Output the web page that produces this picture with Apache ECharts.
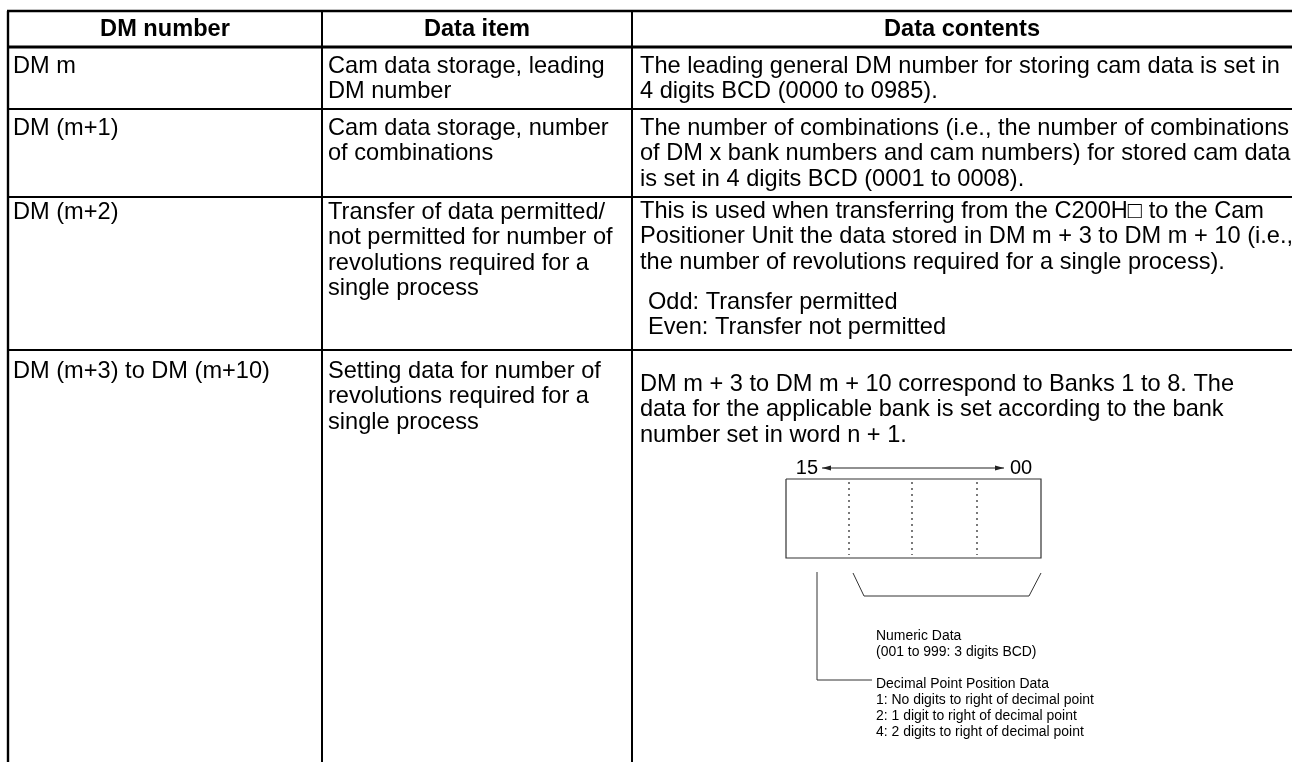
<!DOCTYPE html>
<html><head><meta charset="utf-8">
<script src="https://cdn.jsdelivr.net/npm/echarts@6/dist/echarts.min.js"></script>
<style>html,body{margin:0;padding:0;background:#fff}#c{width:1292px;height:762px}</style>
</head><body><div id="c"></div>
<script>
// ---------- data (texts of the table) ----------
const headers = ['DM number', 'Data item', 'Data contents'];
const dmNumbers = ['DM m', 'DM (m+1)', 'DM (m+2)', 'DM (m+3) to DM (m+10)'];
const dataItems = [
  ['Cam data storage, leading', 'DM number'],
  ['Cam data storage, number', 'of combinations'],
  ['Transfer of data permitted/', 'not permitted for number of', 'revolutions required for a', 'single process'],
  ['Setting data for number of', 'revolutions required for a', 'single process']
];
const dataContents = [
  ['The leading general DM number for storing cam data is set in', '4 digits BCD (0000 to 0985).'],
  ['The number of combinations (i.e., the number of combinations', 'of DM x bank numbers and cam numbers) for stored cam data', 'is set in 4 digits BCD (0001 to 0008).'],
  ['This is used when transferring from the C200H\u25A1 to the Cam', 'Positioner Unit the data stored in DM m + 3 to DM m + 10 (i.e.,', 'the number of revolutions required for a single process).'],
  ['DM m + 3 to DM m + 10 correspond to Banks 1 to 8. The', 'data for the applicable bank is set according to the bank', 'number set in word n + 1.']
];
const transferNotes = ['Odd: Transfer permitted', 'Even: Transfer not permitted'];
const bitLabels = ['15', '00'];
const numericNotes = ['Numeric Data', '(001 to 999: 3 digits BCD)'];
const decimalNotes = ['Decimal Point Position Data', '1: No digits to right of decimal point', '2: 1 digit to right of decimal point', '4: 2 digits to right of decimal point'];

// ---------- layout (positions in axis units) ----------
const L = {
  colEdges: [8, 322, 632, 1300],
  rowEdges: [11, 47, 109, 197, 350, 780],
  textX: [13, 328, 640],
  lineH: 25.5,
  firstLine: [29, 66, 128, 212, 371],
  contentFirst: [29, 66, 128, 211, 384],
  notesFirst: 302, notesIndent: 8,
  bit: {y: 468, x15: 818, x00: 1010, a0: 822, a1: 1004},
  box: {x0: 786, y0: 479, x1: 1041, y1: 558, dots: [849, 912, 977]},
  bracket: [[853, 573], [864, 596], [1029, 596], [1041, 573]],
  decLine: [[817, 572], [817, 680], [872, 680]],
  noteX: 876, numY: 636, decY: 684, smallH: 16
};
const F = '"Liberation Sans", Arial, sans-serif';
const bodyFont = '23.6px ' + F;
const boldFont = 'bold 23.6px ' + F;
const smallFont = '15.5px ' + F;
const smallScaleX = 0.9;
const bitFont = '20px ' + F;

function renderRow(params, api) {
  const r = params.dataIndex;        // 0 = header, 1..4 = rows
  const P = (x, y) => api.coord([x, y]);
  const kids = [];
  const line = (pts, w, extra) => kids.push({
    type: 'polyline', shape: {points: pts.map(p => P(p[0], p[1]))},
    style: Object.assign({stroke: '#000', lineWidth: w, fill: null}, extra || {})
  });
  const text = (s, x, y, font, align, sx) => {
    const p = P(x, y);
    kids.push({type: 'text', x: p[0], y: p[1], scaleX: sx || 1,
      style: {text: s, x: 0, y: 0, font: font, fill: '#000',
      align: align || 'left', verticalAlign: 'middle'}});
  };
  const y0 = L.rowEdges[r], y1 = L.rowEdges[r + 1];
  // vertical lines
  line([[L.colEdges[0], y0], [L.colEdges[0], y1]], 2.4);
  line([[L.colEdges[1], y0], [L.colEdges[1], y1]], 2);
  line([[L.colEdges[2], y0], [L.colEdges[2], y1]], 2);
  // horizontal line at top of this row
  line([[L.colEdges[0] - 1, y0], [L.colEdges[3], y0]], r === 0 ? 2.4 : (r === 1 ? 3 : 2));
  if (r === 0) {
    headers.forEach((h, c) => text(h, (L.colEdges[c] + Math.min(L.colEdges[c + 1], 1292)) / 2, L.firstLine[0], boldFont, 'center'));
    return {type: 'group', children: kids};
  }
  const i = r - 1;
  text(dmNumbers[i], L.textX[0], L.firstLine[r], bodyFont);
  dataItems[i].forEach((s, k) => text(s, L.textX[1], L.firstLine[r] + k * L.lineH, bodyFont));
  dataContents[i].forEach((s, k) => text(s, L.textX[2], L.contentFirst[r] + k * L.lineH, bodyFont));
  if (r === 3) {
    transferNotes.forEach((s, k) => text(s, L.textX[2] + L.notesIndent, L.notesFirst + k * L.lineH, bodyFont));
  }
  if (r === 4) {
    const b = L.bit, bx = L.box;
    text(bitLabels[0], b.x15, b.y, bitFont, 'right');
    text(bitLabels[1], b.x00, b.y, bitFont, 'left');
    line([[b.a0, b.y], [b.a1, b.y]], 1.2, {stroke: '#222'});
    // arrow heads
    const ah = (tip, dir) => kids.push({type: 'polygon', shape: {points: [
      P(tip, b.y), P(tip - dir * 9, b.y - 2.6), P(tip - dir * 9, b.y + 2.6)]}, style: {fill: '#222'}});
    ah(b.a0, -1); ah(b.a1, 1);
    // register box
    line([[bx.x0, bx.y0], [bx.x1, bx.y0], [bx.x1, bx.y1], [bx.x0, bx.y1], [bx.x0, bx.y0]], 1.2, {stroke: '#333'});
    bx.dots.forEach(x => line([[x, bx.y0 + 3], [x, bx.y1 - 3]], 1.3, {stroke: '#333', lineDash: [2, 4]}));
    // bracket for numeric data
    line(L.bracket, 1, {stroke: '#333'});
    // leader for decimal point data
    line(L.decLine, 1, {stroke: '#333'});
    numericNotes.forEach((s, k) => text(s, L.noteX, L.numY + k * L.smallH, smallFont, 'left', smallScaleX));
    decimalNotes.forEach((s, k) => text(s, L.noteX, L.decY + k * L.smallH, smallFont, 'left', smallScaleX));
  }
  return {type: 'group', children: kids};
}

const chart = echarts.init(document.getElementById('c'), null, {renderer: 'canvas'});
chart.setOption({
  animation: false,
  backgroundColor: '#fff',
  grid: {left: 0, right: 0, top: 0, bottom: 0, containLabel: false},
  xAxis: {type: 'value', min: 0, max: 1292, show: false},
  yAxis: {type: 'value', min: 0, max: 762, inverse: true, show: false},
  series: [{
    type: 'custom', silent: true, clip: false,
    coordinateSystem: 'cartesian2d',
    encode: {x: 0, y: 1},
    data: [0, 1, 2, 3, 4].map(r => [0, L.rowEdges[r]]),
    renderItem: renderRow
  }]
});
</script>
</body></html>
